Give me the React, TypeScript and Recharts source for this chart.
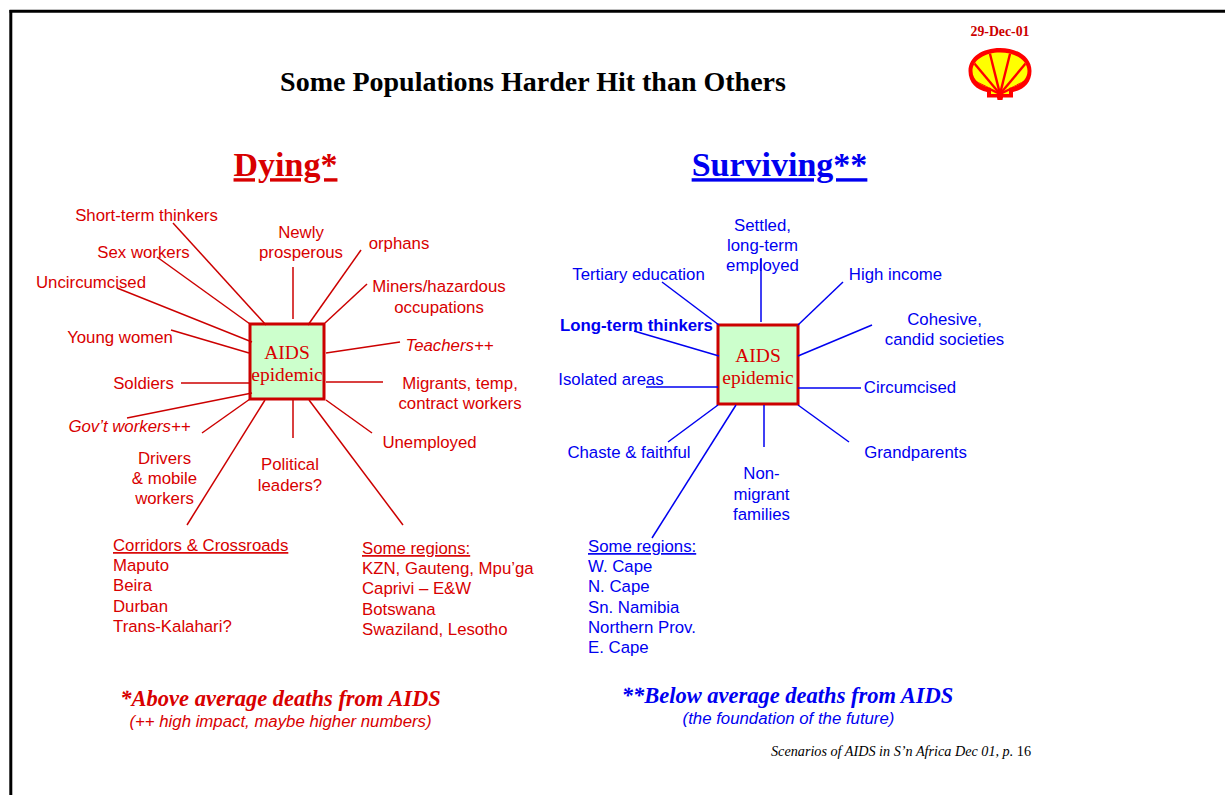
import {
  ReferenceArea,
  ReferenceDot,
  ReferenceLine,
  Scatter,
  ScatterChart,
  XAxis,
  YAxis,
} from "recharts";

const W = 1225;
const H = 795;

const RED = "#d80000";
const RED_LINE = "#cc0000";
const BLUE = "#0000f0";
const SANS = "'Liberation Sans', Arial, sans-serif";
const SERIF = "'Liberation Serif', 'Times New Roman', serif";
const LABEL_SIZE = 16.8;
const LINE_GAP = 20.2;

type Spoke = { from: [number, number]; to: [number, number] };
type Label = { lines: string[]; x: number; y: number };
type List = { heading: string; items: string[]; x: number; y: number };

// spokes: from the box edge out toward the label
const dyingSpokes: Spoke[] = [
  { from: [266, 325], to: [173, 223] },
  { from: [250, 324], to: [157, 257] },
  { from: [252, 342], to: [117, 288] },
  { from: [249, 353], to: [171, 330] },
  { from: [250, 383], to: [181, 383] },
  { from: [252, 393], to: [127, 418] },
  { from: [250, 399], to: [202, 433] },
  { from: [265, 400], to: [187, 525] },
  { from: [293, 400], to: [293, 438] },
  { from: [309, 400], to: [403, 525] },
  { from: [326, 400], to: [372, 433] },
  { from: [326, 382], to: [383, 382] },
  { from: [326, 353], to: [400, 342] },
  { from: [325, 323], to: [367, 284] },
  { from: [308, 325], to: [361, 250] },
  { from: [293, 319], to: [293, 267] },
];

const survivingSpokes: Spoke[] = [
  { from: [719, 325], to: [662, 282] },
  { from: [761, 322], to: [761, 258] },
  { from: [798, 325], to: [843, 282] },
  { from: [719, 356], to: [634, 331] },
  { from: [798, 356], to: [872, 325] },
  { from: [718, 387], to: [646, 387] },
  { from: [798, 388], to: [861, 388] },
  { from: [718, 405], to: [668, 442] },
  { from: [736, 405], to: [652, 538] },
  { from: [764, 405], to: [764, 447] },
  { from: [798, 405], to: [849, 442] },
];

const dyingLabels: Label[] = [
  { lines: ["Short-term thinkers"], x: 146.5, y: 215 },
  { lines: ["Sex workers"], x: 143.5, y: 252 },
  { lines: ["Uncircumcised"], x: 91, y: 282 },
  { lines: ["Newly", "prosperous"], x: 301, y: 242 },
  { lines: ["orphans"], x: 399, y: 243 },
  { lines: ["Miners/hazardous", "occupations"], x: 439, y: 296.5 },
  { lines: ["Young women"], x: 120, y: 337 },
  { lines: ["Teachers++"], x: 449.5, y: 345 },
  { lines: ["Soldiers"], x: 143.5, y: 383 },
  { lines: ["Migrants, temp,", "contract workers"], x: 460, y: 393 },
  { lines: ["Gov’t workers++"], x: 129.5, y: 426 },
  { lines: ["Unemployed"], x: 429.5, y: 442 },
  { lines: ["Drivers", "& mobile", "workers"], x: 164.5, y: 478 },
  { lines: ["Political", "leaders?"], x: 290, y: 474.5 },
];

const survivingLabels: Label[] = [
  { lines: ["Settled,", "long-term", "employed"], x: 762.5, y: 245 },
  { lines: ["Tertiary education"], x: 638.5, y: 274 },
  { lines: ["High income"], x: 895.5, y: 274 },
  { lines: ["Long-term thinkers"], x: 636.5, y: 325 },
  { lines: ["Cohesive,", "candid societies"], x: 944.5, y: 329 },
  { lines: ["Isolated areas"], x: 611, y: 379 },
  { lines: ["Circumcised"], x: 910, y: 387 },
  { lines: ["Chaste & faithful"], x: 629, y: 452 },
  { lines: ["Grandparents"], x: 915.5, y: 452 },
  { lines: ["Non-", "migrant", "families"], x: 761.5, y: 493.5 },
];

const dyingLists: List[] = [
  {
    heading: "Corridors & Crossroads",
    items: ["Maputo", "Beira", "Durban", "Trans-Kalahari?"],
    x: 113,
    y: 545,
  },
  {
    heading: "Some regions:",
    items: ["KZN, Gauteng, Mpu’ga", "Caprivi – E&W", "Botswana", "Swaziland, Lesotho"],
    x: 362,
    y: 548,
  },
];

const survivingLists: List[] = [
  {
    heading: "Some regions:",
    items: ["W. Cape", "N. Cape", "Sn. Namibia", "Northern Prov.", "E. Cape"],
    x: 588,
    y: 546,
  },
];

const ITALIC = new Set(["Teachers++", "Gov’t workers++"]);
const BOLD = new Set(["Long-term thinkers"]);

const boxes = [
  { x1: 250, x2: 324, y1: 324, y2: 399 },
  { x1: 718, x2: 798, y1: 325, y2: 404 },
];

const labelShape = (color: string) => (props: any) => {
  const { cx, cy, payload } = props;
  const lines: string[] = payload.lines;
  const top = cy - ((lines.length - 1) * LINE_GAP) / 2;
  return (
    <text
      textAnchor="middle"
      fill={color}
      fontFamily={SANS}
      fontSize={LABEL_SIZE}
      fontStyle={ITALIC.has(lines[0]) ? "italic" : "normal"}
      fontWeight={BOLD.has(lines[0]) ? "bold" : "normal"}
    >
      {lines.map((l, i) => (
        <tspan key={i} x={cx} y={top + i * LINE_GAP} dy="0.36em">
          {l}
        </tspan>
      ))}
    </text>
  );
};

const listShape = (color: string) => (props: any) => {
  const { cx, cy, payload } = props;
  return (
    <text fill={color} fontFamily={SANS} fontSize={LABEL_SIZE}>
      <tspan x={cx} y={cy} dy="0.36em" textDecoration="underline">
        {payload.heading}
      </tspan>
      {payload.items.map((l: string, i: number) => (
        <tspan key={i} x={cx} y={cy + (i + 1) * LINE_GAP} dy="0.36em">
          {l}
        </tspan>
      ))}
    </text>
  );
};

const boxText = (props: any) => {
  const { cx, cy } = props;
  return (
    <text textAnchor="middle" fill={RED} fontFamily={SERIF} fontSize={19.5}>
      <tspan x={cx} y={cy - 11} dy="0.33em">AIDS</tspan>
      <tspan x={cx} y={cy + 11} dy="0.33em">epidemic</tspan>
    </text>
  );
};

const SHELL_INNER =
  "M -9 20 L -9 14 C -18 12 -27.5 7 -27.5 -3 C -27.5 -14 -15 -21.5 0 -21.5 C 15 -21.5 27.5 -14 27.5 -3 C 27.5 7 18 12 9 14 L 9 20 Z";
const SHELL_OUTER =
  "M -13 23.5 L -13 18 C -23 16 -31.5 9 -31.5 -3 C -31.5 -17 -17.5 -26 0 -26 C 17.5 -26 31.5 -17 31.5 -3 C 31.5 9 23 16 13 18 L 13 23.5 L 3 23.5 L 2.5 26 L -2.5 26 L -3 23.5 Z";

function ShellLogo(props: any) {
  const { cx, cy } = props;
  const rays = [-64, -40, -14, 14, 40, 64];
  return (
    <g transform={`translate(${cx},${cy})`}>
      <defs>
        <clipPath id="shellClip">
          <path d={SHELL_INNER} />
        </clipPath>
      </defs>
      <path d={SHELL_OUTER} fill="#ff0000" />
      <path d={SHELL_INNER} fill="#ffff00" />
      <g clipPath="url(#shellClip)">
        {rays.map((a) => {
          const r = (a * Math.PI) / 180;
          return (
            <line
              key={a}
              x1={0}
              y1={20}
              x2={Math.sin(r) * 55}
              y2={20 - Math.cos(r) * 55}
              stroke="#ff0000"
              strokeWidth={2.4}
            />
          );
        })}
      </g>
    </g>
  );
}

const txt =
  (content: React.ReactNode, style: Record<string, any>) => (props: any) => (
    <text x={props.cx} y={props.cy} textAnchor="middle" {...style}>
      {content}
    </text>
  );

export default function App() {
  return (
    <div
      style={{
        position: "absolute",
        left: 0,
        top: 0,
        width: W,
        height: H,
        background: "#fff",
      }}
    >
      <ScatterChart
        width={W}
        height={H}
        margin={{ top: 0, right: 0, bottom: 0, left: 0 }}
      >
        <XAxis type="number" dataKey="x" domain={[0, W]} hide />
        <YAxis type="number" dataKey="y" domain={[0, H]} reversed hide />

        {/* slide frame */}
        <ReferenceLine
          segment={[{ x: 9.5, y: 11.3 }, { x: W, y: 11.3 }]}
          stroke="#000"
          strokeWidth={3}
          ifOverflow="visible"
        />
        <ReferenceLine
          segment={[{ x: 10.8, y: 10 }, { x: 10.8, y: H }]}
          stroke="#000"
          strokeWidth={3}
          ifOverflow="visible"
        />

        {dyingSpokes.map((s, i) => (
          <ReferenceLine
            key={"d" + i}
            segment={[
              { x: s.from[0], y: s.from[1] },
              { x: s.to[0], y: s.to[1] },
            ]}
            stroke={RED_LINE}
            strokeWidth={1.5}
            ifOverflow="visible"
          />
        ))}
        {survivingSpokes.map((s, i) => (
          <ReferenceLine
            key={"s" + i}
            segment={[
              { x: s.from[0], y: s.from[1] },
              { x: s.to[0], y: s.to[1] },
            ]}
            stroke={BLUE}
            strokeWidth={1.5}
            ifOverflow="visible"
          />
        ))}

        {boxes.map((b, i) => (
          <ReferenceArea
            key={"b" + i}
            x1={b.x1}
            x2={b.x2}
            y1={b.y1}
            y2={b.y2}
            fill="#ccffcc"
            fillOpacity={1}
            stroke={RED_LINE}
            strokeWidth={3}
            ifOverflow="visible"
          />
        ))}
        {boxes.map((b, i) => (
          <ReferenceDot
            key={"bt" + i}
            x={(b.x1 + b.x2) / 2}
            y={(b.y1 + b.y2) / 2 + 2}
            r={0}
            shape={boxText}
            ifOverflow="visible"
          />
        ))}

        <Scatter data={dyingLabels} shape={labelShape(RED)} isAnimationActive={false} />
        <Scatter data={survivingLabels} shape={labelShape(BLUE)} isAnimationActive={false} />
        <Scatter data={dyingLists} shape={listShape(RED)} isAnimationActive={false} />
        <Scatter data={survivingLists} shape={listShape(BLUE)} isAnimationActive={false} />

        {/* titles and notes */}
        <ReferenceDot
          x={533}
          y={82}
          r={0}
          ifOverflow="visible"
          shape={txt("Some Populations Harder Hit than Others", {
            fontFamily: SERIF,
            fontWeight: "bold",
            fontSize: 28,
            fill: "#000",
            dy: "0.33em",
          })}
        />
        <ReferenceDot
          x={285.5}
          y={165}
          r={0}
          ifOverflow="visible"
          shape={txt("Dying*", {
            fontFamily: SERIF,
            fontWeight: "bold",
            fontSize: 34,
            fill: RED,
            textDecoration: "underline",
            dy: "0.33em",
          })}
        />
        <ReferenceDot
          x={779.5}
          y={165}
          r={0}
          ifOverflow="visible"
          shape={txt("Surviving**", {
            fontFamily: SERIF,
            fontWeight: "bold",
            fontSize: 34,
            fill: BLUE,
            textDecoration: "underline",
            dy: "0.33em",
          })}
        />
        <ReferenceDot
          x={1000}
          y={31.5}
          r={0}
          ifOverflow="visible"
          shape={txt("29-Dec-01", {
            fontFamily: SERIF,
            fontWeight: "bold",
            fontSize: 13.8,
            fill: "#cc0000",
            dy: "0.33em",
          })}
        />
        <ReferenceDot x={1000} y={74} r={0} ifOverflow="visible" shape={ShellLogo} />
        <ReferenceDot
          x={280.5}
          y={699}
          r={0}
          ifOverflow="visible"
          shape={txt("*Above average deaths from AIDS", {
            fontFamily: SERIF,
            fontWeight: "bold",
            fontStyle: "italic",
            fontSize: 22.5,
            fill: RED,
            dy: "0.33em",
          })}
        />
        <ReferenceDot
          x={280.5}
          y={721}
          r={0}
          ifOverflow="visible"
          shape={txt("(++ high impact, maybe higher numbers)", {
            fontFamily: SANS,
            fontStyle: "italic",
            fontSize: 16.8,
            fill: RED,
            dy: "0.36em",
          })}
        />
        <ReferenceDot
          x={787.5}
          y={696}
          r={0}
          ifOverflow="visible"
          shape={txt("**Below average deaths from AIDS", {
            fontFamily: SERIF,
            fontWeight: "bold",
            fontStyle: "italic",
            fontSize: 22.5,
            fill: BLUE,
            dy: "0.33em",
          })}
        />
        <ReferenceDot
          x={788.5}
          y={718}
          r={0}
          ifOverflow="visible"
          shape={txt("(the foundation of the future)", {
            fontFamily: SANS,
            fontStyle: "italic",
            fontSize: 16.8,
            fill: BLUE,
            dy: "0.36em",
          })}
        />
        <ReferenceDot
          x={901}
          y={751}
          r={0}
          ifOverflow="visible"
          shape={txt(
            <>
              <tspan fontStyle="italic">Scenarios of AIDS in S’n Africa Dec 01, p.</tspan>
              <tspan> 16</tspan>
            </>,
            { fontFamily: SERIF, fontSize: 14.2, fill: "#000", dy: "0.33em" }
          )}
        />
      </ScatterChart>
    </div>
  );
}
